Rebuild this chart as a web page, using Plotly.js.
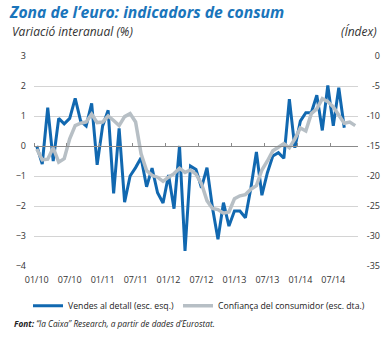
<!DOCTYPE html>
<html>
<head>
<meta charset="utf-8">
<script src="https://cdn.plot.ly/plotly-3.0.1.min.js"></script>
<style>
html,body{margin:0;padding:0;background:#fff;}
#chart{width:386px;height:338px;}
</style>
</head>
<body>
<div id="chart"></div>
<script>
// Tick labels every 6 months, starting 01/2010
const tickLabels = ['01/10','07/10','01/11','07/11','01/12','07/12','01/13','07/13','01/14','07/14'];
const monthsPerTick = 6;

// Retail sales, year-on-year change (%), left axis — Jan 2010 .. Sep 2014
const retailSales = [
  0.0, -0.6, 1.28, -0.5, 0.92, 0.74, 0.92, 1.59, 0.83, 0.67,
  1.42, -0.63, 0.67, 1.19, -1.58, 0.59, -1.87, -1.0, -0.72, -0.39,
  -1.36, -0.74, -1.56, -1.9, -0.97, -2.09, 0.0, -3.5, -0.67, -0.78,
  -1.39, -0.72, -2.06, -3.11, -1.89, -2.67, -2.17, -2.17, -2.39, -1.39,
  -0.2, -1.64, -0.89, -0.33, -0.22, -0.41, 1.56, -0.06, 0.83, 1.11,
  1.11, 1.69, 0.52, 2.02, 0.67, 1.94, 0.61
];

// Consumer confidence (index), right axis — Jan 2010 .. Nov 2014
const consumerConfidence = [
  -15.5, -17.3, -17.2, -15.3, -17.7, -17.1, -13.8, -11.6, -11.2, -11.0,
  -9.7, -11.1, -11.0, -10.0, -10.75, -11.6, -10.1, -9.6, -11.0, -16.3,
  -19.1, -19.9, -20.2, -20.9, -20.2, -19.6, -18.7, -19.4, -19.0, -19.7,
  -21.3, -24.1, -25.4, -25.6, -26.2, -26.0, -23.8, -23.3, -23.1, -22.2,
  -21.6, -19.0, -17.5, -15.8, -15.2, -14.6, -15.3, -13.8, -12.0, -12.5,
  -9.6, -8.8, -7.1, -7.6, -8.5, -9.9, -11.2, -11.0, -11.6
];

const leftTicks = [3, 2, 1, 0, -1, -2, -3, -4];
const rightTicks = [0, -5, -10, -15, -20, -25, -30, -35];

const seriesNames = ['Vendes al detall (esc. esq.)', 'Confiança del consumidor (esc. dta.)'];

const nMonths = consumerConfidence.length;
const idx = n => Array.from({length: n}, (_, i) => i);
const tickVals = tickLabels.map((_, i) => i * monthsPerTick);
const boundaryVals = tickLabels.map((_, i) => i * monthsPerTick - 0.5);
// pad short labels so the right-hand labels line up on their right edge
const rightLabels = rightTicks.map(v => v === 0 ? '\u2008\u20070' : (v > -10 ? '\u2007' + String(v) : String(v)));

const FONT = 'Open Sans, sans-serif';
const BLUE = '#1168b0';
const GREY = '#b7bfc5';

const W = 386, H = 338;
const mL = 34, mR = 4, mT = 56, mB = 72;
const plotRight = 358;
const pw = W - mL - mR, ph = H - mT - mB;
const px = x => (x - mL) / pw;
const py = y => (H - mB - y) / ph;

const traces = [
  {
    x: idx(retailSales.length), y: retailSales,
    type: 'scatter', mode: 'lines', name: seriesNames[0],
    line: {color: BLUE, width: 3}, xaxis: 'x', yaxis: 'y', legend: 'legend'
  },
  {
    x: idx(nMonths), y: consumerConfidence,
    type: 'scatter', mode: 'lines', name: seriesNames[1],
    line: {color: GREY, width: 3.5}, xaxis: 'x2', yaxis: 'y2', legend: 'legend2'
  }
];

const tickFont = {family: FONT, size: 9, color: '#333'};
const xRange = [-0.5, nMonths - 0.5];
const xDomain = [0, (plotRight - mL) / pw];
const legendFont = {family: FONT, size: 8.7, color: '#222'};

const layout = {
  width: W, height: H,
  margin: {l: mL, r: mR, t: mT, b: mB, pad: 0},
  paper_bgcolor: '#fff', plot_bgcolor: '#fff',
  showlegend: true,
  font: {family: FONT},
  title: {
    text: '<b><i>Zona de l’euro: indicadors de consum</i></b>',
    font: {family: FONT, size: 15.7, color: '#1a75bb'},
    xref: 'container', yref: 'container',
    x: 10 / W, y: 1 - 13 / H, xanchor: 'left', yanchor: 'middle'
  },
  xaxis: {
    domain: xDomain, range: xRange,
    tickmode: 'array', tickvals: tickVals, ticktext: tickLabels,
    showgrid: false, zeroline: false, showline: false, ticks: '',
    tickfont: tickFont, ticklabelstandoff: 7, fixedrange: true
  },
  xaxis2: {
    overlaying: 'x', anchor: 'free', position: 4 / 7, side: 'top',
    range: xRange, tickmode: 'array', tickvals: boundaryVals,
    ticks: 'outside', ticklen: 3, tickwidth: 1, tickcolor: '#8a8a8a',
    showline: true, linecolor: '#8a8a8a', linewidth: 1,
    showticklabels: false, showgrid: false, zeroline: false
  },
  yaxis: {
    range: [-4, 3], tickmode: 'array', tickvals: leftTicks,
    showgrid: true, gridcolor: '#d4d4d4', gridwidth: 1,
    zeroline: false, showline: false, ticks: '',
    tickfont: tickFont, ticklabelstandoff: 7
  },
  yaxis2: {
    overlaying: 'y', side: 'left', anchor: 'free', position: 1,
    range: [-35, 0], tickmode: 'array', tickvals: rightTicks, ticktext: rightLabels,
    showgrid: false, zeroline: false, showline: false, ticks: '',
    tickfont: tickFont, ticklabelstandoff: 2
  },
  legend: {
    orientation: 'h', x: px(28), y: py(305.7), xanchor: 'left', yanchor: 'middle',
    font: legendFont, bgcolor: 'rgba(0,0,0,0)'
  },
  legend2: {
    orientation: 'h', x: px(178), y: py(305.7), xanchor: 'left', yanchor: 'middle',
    font: legendFont, bgcolor: 'rgba(0,0,0,0)'
  },
  annotations: [
    {
      text: '<i>Variació interanual (%)</i>', xref: 'paper', yref: 'paper',
      x: px(10), y: py(32), xanchor: 'left', yanchor: 'middle', showarrow: false,
      font: {family: FONT, size: 12, color: '#333'}
    },
    {
      text: '<i>(Índex)</i>', xref: 'paper', yref: 'paper',
      x: px(379), y: py(32), xanchor: 'right', yanchor: 'middle', showarrow: false,
      font: {family: FONT, size: 12, color: '#333'}
    },
    {
      text: '<b><i>Font:</i></b><i> “la Caixa” Research, a partir de dades d’Eurostat.</i>',
      xref: 'paper', yref: 'paper',
      x: px(12), y: py(323), xanchor: 'left', yanchor: 'middle', showarrow: false,
      font: {family: FONT, size: 8.3, color: '#222'}
    }
  ]
};

Plotly.newPlot('chart', traces, layout, {staticPlot: true, displayModeBar: false});
</script>
</body>
</html>
